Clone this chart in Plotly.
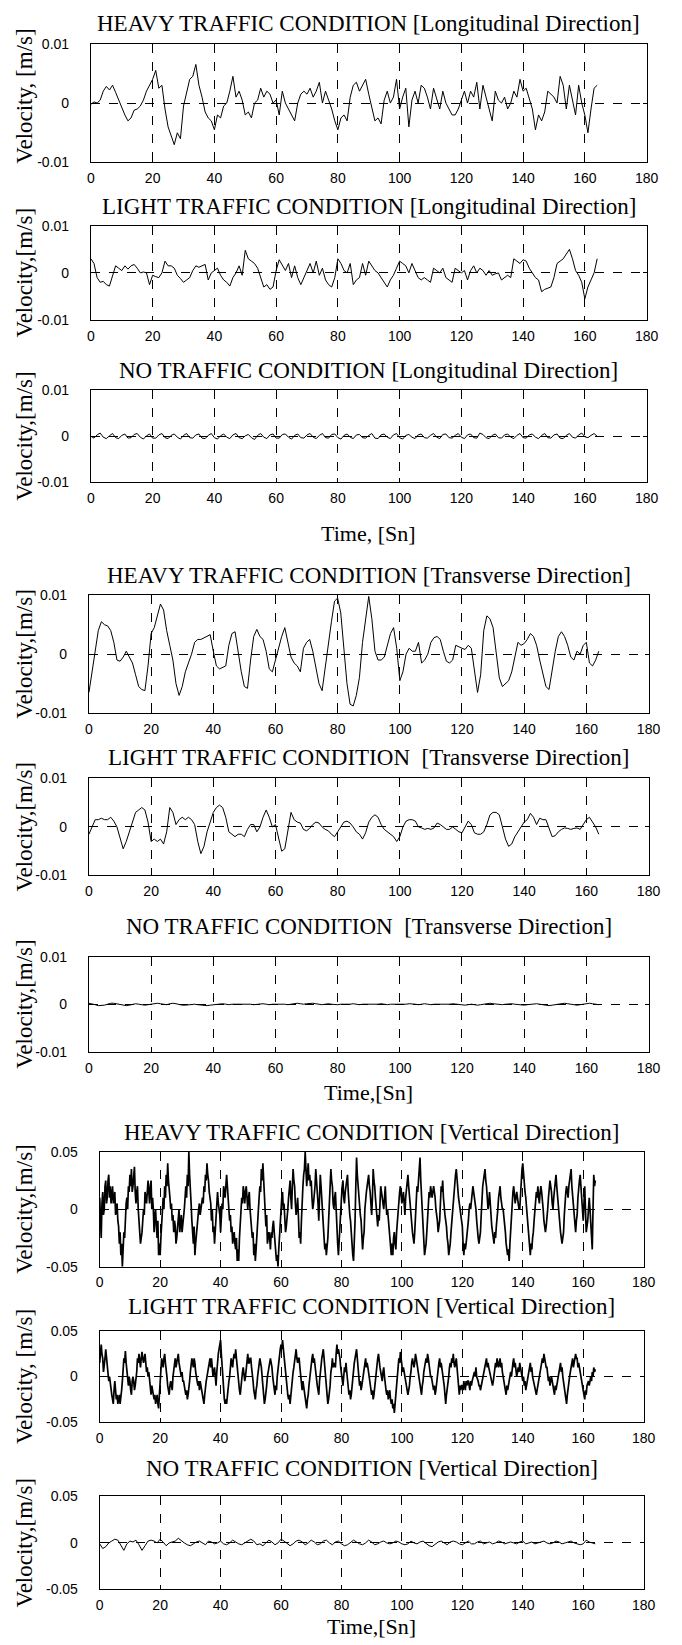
import plotly.graph_objects as go

# ---------------- data ----------------
# Longitudinal / transverse series: units of 1e-4 m/s, sampled every 1 s
HEAVY_LONG = [-2,2,0,5,20,28,22,30,18,5, -10,-20,-30,-25,-12,-10,-5,5,20,30, 40,55,25,30,-10,-40,-55,-70,-50,-60,
              -5,20,40,45,65,30,10,-15,-25,-30, -45,-20,-25,-5,0,20,45,10,20,5, -20,-15,-25,0,5,25,10,20,15,0,
              5,-20,20,0,-10,-20,-30,0,15,20, 15,25,10,20,35,0,20,5,-10,-30, -45,-25,-20,-30,10,30,35,20,30,40,
              15,-10,-30,-25,-35,5,20,0,10,40, -10,10,25,-40,5,20,0,30,25,10, -10,25,5,-10,20,0,-10,-20,-20,-10,
              5,20,0,20,10,35,-10,30,10,-10, -30,20,5,0,10,-10,0,20,10,40, 20,25,5,-10,-45,-20,-30,-15,20,15,
              10,0,45,30,-10,30,5,-20,30,0, -20,-50,-10,25,30]
LIGHT_LONG = [30,20,-10,-20,-18,-25,-28,-5,15,10, 5,15,8,15,18,10,0,2,0,-25, -5,-8,-10,0,25,15,15,10,-5,-12,
              -20,-15,-10,5,15,12,15,18,-15,0, 5,10,-5,-15,-20,-28,-10,0,15,-5, 48,30,25,20,10,-10,-30,-25,-35,-30,
              5,28,15,5,20,-10,15,-10,-25,-10, 5,20,0,25,-5,10,-15,-25,-30,-10, 30,20,5,0,20,-25,-15,-10,20,-5,
              25,15,5,0,-10,-20,-30,-15,-5,10, 25,20,15,0,20,5,-10,-15,-10,-15, -20,10,5,0,10,-10,-15,-20,10,5,
              0,5,-15,5,15,0,10,5,-5,5, -5,-2,0,-15,-10,-5,-10,30,25,20, 28,25,10,0,-10,-15,-40,-35,-32,-30,
              -10,20,25,30,40,50,30,5,-5,-20, -55,-30,-15,0,30]
NO_LONG = [0,-4,3,7,-2,-5,1,6,-3,-5, 2,5,-4,-3,4,6,-2,-6,1,5, -4,-4,3,6,-3,-5,2,5,-2,-6,
           2,6,-3,-4,3,5,-4,-5,2,6, -3,-6,1,5,-2,-5,3,6,-3,-5, 1,4,-3,-7,2,6,-2,-5,3,5,
           -4,-4,4,5,-2,-6,2,5,-3,-4, 3,6,-2,-5,2,6,-3,-4,4,5, -3,-6,2,5,-2,-5,3,4,-3,-4,
           2,6,-4,-5,3,5,-2,-5,3,6, -3,-6,2,4,-2,-5,3,5,-3,-4, 2,6,-2,-5,4,5,-3,-4,2,6,
           -2,-5,3,5,-3,-4,7,4,-3,-5, 2,5,-3,-4,3,5,-2,-5,2,6, -3,-4,3,5,-2,-5,2,6,-3,-4,
           3,5,-4,-5,2,6,-2,-4,3,7, -1,-3,2,6,0]
HEAVY_TRANS = [-65,-30,10,40,55,50,48,40,20,-10, -12,-5,5,-5,-15,-35,-55,-60,-62,-20, 35,45,65,85,75,40,15,-10,-50,-70,
               -55,-30,-15,0,20,25,25,28,30,33, 5,-20,-25,-22,-20,15,35,38,0,-30, -55,-58,-10,30,42,30,25,5,-25,-30,
               -10,10,30,45,20,-5,-15,-20,-30,10, 20,25,5,-25,-50,-62,-20,20,55,90, 95,70,10,-50,-85,-88,-70,-40,20,60,
               98,60,5,-10,-10,-5,15,35,45,10, -45,-30,0,10,5,5,20,-15,-10,0, 20,28,30,25,5,-12,-15,-10,15,12,
               10,8,15,10,-25,-65,-35,40,65,60, 45,5,-40,-55,-50,-45,-30,-5,20,15, 18,25,35,30,15,-10,-30,-55,-60,-25,
               5,30,38,30,15,-5,-10,5,0,15, 20,-15,-20,-10,5]
LIGHT_TRANS = [-15,0,15,15,18,15,15,20,12,0, -20,-45,-30,-10,15,30,35,40,35,10, -30,-25,-30,-25,-35,-10,40,30,5,15,
               20,15,20,15,5,-30,-55,-40,-10,10, 30,40,45,40,20,-10,-15,-20,-15,-15, -20,-5,5,5,-10,0,20,35,20,0,
               5,-20,-50,-45,-10,30,15,10,8,-5, -8,-3,5,10,8,0,-5,-8,-15,-20, -10,0,10,12,8,0,-10,-15,-25,-12,
               10,20,25,20,5,-5,-10,-15,-20,-30, -20,0,12,15,15,12,0,-2,-5,-3, -5,-2,8,5,0,-5,-5,0,-5,-10,
               -12,0,12,5,-12,-15,-15,-10,5,25, 30,30,25,0,-25,-40,-35,-20,-10,0, 10,15,28,20,5,18,15,15,-5,-20,
               -18,-10,-5,-2,-3,-5,-3,-2,-5,5, 15,20,10,0,-15]
NO_TRANS = [2,1,-1,-3,-3,-2,0,2,2,1, -1,-2,-3,-2,0,1,0,-1,-2,-1, 0,1,2,1,0,-1,1,2,1,-1,
            -2,-2,-1,0,0,-1,-2,-3,-3,-2, -1,0,0,1,0,-1,0,0,1,0, 0,1,0,-1,0,0,1,0,-1,0,
            0,1,1,0,-1,0,1,2,1,0, 1,2,2,1,0,-1,0,1,0,-1, -1,0,0,-1,0,1,0,-1,0,0,
            0,-1,0,0,1,0,-1,0,0,0, -1,-1,0,1,1,0,-1,0,1,0, -1,0,0,0,-1,-1,0,1,0,-1,
            -2,-2,-1,0,-1,-2,-1,0,1,2, 1,0,-1,-1,0,1,1,0,-1,-2, -2,-1,0,1,1,0,-1,-2,-3,-2,
            -1,0,1,2,1,0,-1,-2,-1,0, 1,2,1,0,-1]
# Vertical series: units of 1e-3 m/s; heavy/light sampled every 0.25 s, no-traffic every 1 s
HEAVY_VERT = [
    10,-5,-25,5,15,-5,0,20, 25,5,10,25,30,10,20,5, 15,20,5,10,15,-5,0,5, -10,-15,-30,-20,-40,-30,-50,-35,
    -20,-25,-5,5,10,0,20,15, 30,20,35,15,20,30,37,15, 5,15,20,0,-10,-20,-30,-25, -20,-10,0,-5,15,10,5,15,
    25,15,5,20,25,0,10,0, -20,-5,0,-15,-25,-10,-40,-30, -40,-25,-10,5,10,0,20,10, 30,20,40,25,20,10,0,5,
    -10,-5,-20,-10,-15,-30,-25,-15, -10,0,-20,-15,-5,-20,-15,-5, 0,10,20,10,30,20,50,30, 20,5,-10,-20,-30,-15,-40,-30,
    -20,-15,-10,0,5,-5,0,5, 10,5,20,15,30,25,40,30, 25,15,10,5,-10,0,-20,-15, -30,-20,-10,5,15,5,0,-5,
    -20,-10,5,0,20,15,10,20, 30,20,10,0,-10,-5,-20,-15, -30,-25,-20,-30,-35,-25,-45,-35, -45,-25,-10,0,10,5,20,15,
    5,15,20,10,0,10,15,0, -10,-15,-25,-20,-40,-30,-45,-35, -20,-10,0,10,20,15,35,25, 40,25,10,0,-15,-5,-30,-25,
    -20,-25,-35,-20,-25,-15,-10,-20, -30,-35,-45,-40,-50,-35,-20,-10, 0,10,15,0,5,-5,-20,-15, -10,0,10,20,25,10,0,20,
    35,25,20,5,-5,0,10,-5, -25,-20,-30,-10,10,20,30,35, 50,35,20,30,40,25,30,20, 25,10,0,5,10,20,35,25,
    20,5,-10,10,30,20,5,-5, -20,-25,-35,-30,-40,-35,-25,-10, 10,20,35,25,20,5,0,10, 15,0,-25,-30,-40,-25,-10,0,
    10,20,25,10,5,15,20,25, 30,15,0,-5,-10,-20,-35,-40, -45,-30,-10,20,45,30,20,5, 0,-5,-10,-20,-35,-25,-20,0,
    10,15,20,25,30,20,15,5, -5,10,35,25,20,10,0,-10, -15,-5,-10,5,20,15,10,5, 0,10,20,5,-5,0,-10,-20,
    -30,-35,-40,-30,-40,-25,-20,-30, -35,-20,-10,0,10,15,20,10, 5,10,15,5,-5,10,20,25, 30,20,10,0,-10,-15,-20,-25,
    -30,-20,-10,5,20,15,25,35, 45,25,10,-5,-20,-30,-40,-35, -30,-20,-10,5,15,10,20,15, 10,15,20,15,10,0,-5,-10,
    -20,-15,-10,5,20,15,25,10, 0,-5,-10,-15,-25,-30,-40,-35, -30,-20,-10,0,10,20,25,30, 35,25,20,10,5,0,-5,-10,
    -15,-30,-40,-30,-35,-30,-25,-15, -10,0,5,0,10,15,20,15, 10,5,0,-10,-20,-25,-30,-25, -20,-5,10,20,25,30,35,25,
    20,10,0,5,15,5,-10,-15, -20,-25,-30,-20,-25,-15,-10,0, 10,15,20,10,5,0,0,-5, -10,-20,-30,-35,-40,-35,-45,-30,
    -20,-5,10,15,20,10,5,10, 15,10,5,0,0,15,30,35, 40,30,20,15,10,0,-10,-20, -25,-30,-40,-30,-35,-25,-20,-10,
    0,5,15,10,20,10,5,15, 20,15,10,0,-10,-15,-20,-15, -10,0,10,20,25,20,15,5, 0,10,20,25,30,20,10,0,
    -10,-15,-20,-25,-30,-25,-20,-5, 10,15,20,15,10,20,25,30, 35,20,10,0,-10,-15,-20,-10, -5,10,20,25,30,20,10,0,
    -10,5,20,0,-20,-15,-10,0, 10,0,-15,-25,-35,0,30,20, 25]
LIGHT_VERT = [
    15,25,35,25,20,5,10,20, 30,20,15,5,-5,0,-10,-15, -20,-25,-30,-15,-5,-15,-25,-20, -30,-25,-20,-30,-25,-15,-5,5,
    20,15,28,15,5,0,-10,0, -5,-15,-20,-5,0,-5,-15,-10, -5,5,20,15,25,15,10,20, 27,20,15,20,25,15,5,10,
    0,5,-5,-10,-20,-10,-15,-20, -25,-20,-30,-25,-20,-30,-35,-20, -5,5,20,15,10,20,25,15, 10,0,-10,-15,-20,-10,-5,-10,
    -15,0,10,15,20,10,15,20, 25,15,10,5,0,5,-5,-5, -10,-15,-20,-15,-25,-20,-15,-5, 5,10,20,15,10,20,15,5,
    0,-5,-10,-5,-15,-5,-10,-15, -20,-25,-30,-20,-10,-5,0,5, 10,15,20,10,20,10,0,5, 10,0,-10,5,20,25,30,35,
    40,25,10,-5,-20,-25,-30,-25, -30,-20,-10,-5,0,10,20,15, 10,20,25,20,30,20,10,0, -10,-15,-20,-10,0,5,10,0,
    -5,0,10,20,25,15,15,20, 20,10,5,-5,-15,-20,-25,-15, -10,0,10,15,20,15,10,0, -15,-20,-30,-25,-20,-10,0,5,
    10,15,20,15,10,0,-10,-15, -20,-10,-15,0,10,15,20,30, 35,30,40,30,25,15,10,0, -10,-20,-25,-20,-30,-20,-10,0,
    5,10,20,25,30,20,15,20, 20,10,0,-5,-15,-5,-10,-15, -20,-25,-35,-25,-20,-10,0,5, 10,20,25,15,20,10,5,0,
    -10,-15,-20,-5,5,15,20,25, 30,20,10,0,-15,-20,-30,-25, -20,-10,5,10,20,10,15,10, 10,25,35,25,30,25,20,10,
    0,-5,-10,0,10,5,15,5, -5,-10,-20,-15,-25,-20,-10,0, 10,15,20,25,30,20,10,0, -10,-5,-15,-10,-5,0,10,15,
    20,10,15,10,5,-5,-10,-15, -20,-15,-25,-20,-10,0,10,15, 20,25,15,10,5,0,-5,5, 10,0,-10,-15,-20,-15,-25,-20,
    -15,-25,-30,-25,-35,-30,-40,-30, -20,-5,5,15,20,15,27,20, 15,5,10,5,0,-5,-10,-15, -20,-15,-10,0,5,15,20,15,
    10,15,25,20,15,5,0,-5, -10,-15,-20,-10,-5,5,10,15, 20,15,25,20,15,5,0,0, -5,-10,-15,-10,-20,-15,-5,5,
    10,15,20,10,15,10,5,0, -10,-20,-30,-20,-15,-5,0,10, 15,10,20,15,25,15,10,15, 20,10,0,-10,-20,-10,-15,-10,
    -10,-15,-5,-10,-15,-5,-10,-5, -5,-10,-15,-5,-10,-5,0,0, 5,0,10,0,-5,-5,-10,-10, -15,-10,-5,0,5,5,10,15,
    20,10,15,10,5,0,-5,-5, -10,-5,0,10,15,10,20,15, 10,15,20,10,15,5,0,-5, -10,-15,-20,-10,-15,-10,-5,0,
    5,0,10,15,20,10,15,5, 0,5,10,5,15,10,5,0, -5,0,-10,-5,-15,-10,-5,0, 5,10,15,5,10,0,-5,-5,
    -10,-15,-20,-15,-10,-5,0,5, 10,15,20,15,25,20,15,10, 10,0,-5,0,-10,-5,0,-5, -10,-15,-20,-10,-15,-10,-5,0,
    5,10,15,5,10,0,-5,-10, -15,-20,-30,-20,-10,-5,0,5, 10,15,20,10,15,20,25,20, 20,10,15,10,5,0,-5,-10,
    -15,-20,-25,-15,-20,-10,-5,-5, -10,-5,0,-5,5,0,10,5, 8]
NO_VERT = [-1,-6,-4,0,2,4,3,-3,-8,-1, 2,1,3,-2,-8,-3,2,3,2,0, 4,1,-3,0,1,2,5,2,0,-2,
           -3,-1,1,2,0,-2,2,1,-1,0, 2,-1,-2,0,3,1,-1,-2,0,2, 4,2,-2,-1,-3,0,3,1,-2,0,
           4,2,-1,-3,-1,2,3,1,-2,0, 3,1,-2,-1,2,3,0,-2,1,2, -1,-3,-2,1,3,1,-1,-2,0,3,
           1,-2,-1,1,2,0,-1,0,2,1, -1,-2,-1,2,0,-1,1,2,-1,-3, -4,-1,1,2,0,-2,1,2,1,-1,
           -2,0,2,-1,-1,1,2,-1,0,1, -1,0,2,1,-1,0,1,0,-1,1, 2,-1,0,1,-1,0,1,2,0,-1,
           0,2,1,-1,0,1,2,0,-1,-2, -1,3,1,0,-1]

TITLES = ["HEAVY TRAFFIC CONDITION [Longitudinal Direction]",
          "LIGHT TRAFFIC CONDITION [Longitudinal Direction]",
          "NO TRAFFIC CONDITION [Longitudinal Direction]",
          "HEAVY TRAFFIC CONDITION [Transverse Direction]",
          "LIGHT TRAFFIC CONDITION  [Transverse Direction]",
          "NO TRAFFIC CONDITION  [Transverse Direction]",
          "HEAVY TRAFFIC CONDITION [Vertical Direction]",
          "LIGHT TRAFFIC CONDITION [Vertical Direction]",
          "NO TRAFFIC CONDITION [Vertical Direction]"]
YLABELS = ["Velocity, [m/s]", "Velocity,[m/s]", "Velocity,[m/s]",
           "Velocity,[m/s]", "Velocity,[m/s]", "Velocity,[m/s]",
           "Velocity,[m/s]", "Velocity, [m/s]", "Velocity,[m/s]"]
XLABELS = {2: "Time, [Sn]", 5: "Time,[Sn]", 8: "Time,[Sn]"}
X_TICKS = [0, 20, 40, 60, 80, 100, 120, 140, 160, 180]
Y_TICKS_SMALL = [-0.01, 0, 0.01]
Y_TICKTEXT_SMALL = ["-0.01", "0", "0.01"]
Y_TICKS_LARGE = [-0.05, 0, 0.05]
Y_TICKTEXT_LARGE = ["-0.05", "0", "0.05"]

series = [(HEAVY_LONG, 1e-4, 1.0), (LIGHT_LONG, 1e-4, 1.0), (NO_LONG, 1e-4, 1.0),
          (HEAVY_TRANS, 1e-4, 1.0), (LIGHT_TRANS, 1e-4, 1.0), (NO_TRANS, 1e-4, 1.0),
          (HEAVY_VERT, 1e-3, 0.25), (LIGHT_VERT, 1e-3, 0.25), (NO_VERT, 1e-3, 1.0)]

# ---------------- layout geometry (pixels) ----------------
W, H = 682, 1645
boxes = [  # (left, right, top, bottom)
    (89, 658, 36, 156), (89, 658, 220, 315), (89, 658, 386, 479),
    (87, 660, 593, 712), (87, 660, 778, 876), (87, 660, 958, 1054),
    (98, 655, 1155, 1271), (98, 655, 1336, 1428), (98, 655, 1503, 1597)]
title_y = [16, 200, 366, 573, 757, 928, 1136, 1311, 1475]
ylabel_shift = [-7, 0, 0, 0, 0, 0, 0, 0, 0]
xlabel_y = {2: 531, 5: 1095, 8: 1634}

serif = "Liberation Serif, Times New Roman, serif"
sans = "Liberation Sans, Arial, Helvetica, sans-serif"

fig = go.Figure()
layout = dict(width=W, height=H, margin=dict(l=0, r=0, t=0, b=0),
              paper_bgcolor="white", plot_bgcolor="white", showlegend=False)
annotations = []

for i, ((vals, unit, dt), (l, r, t, b)) in enumerate(zip(series, boxes)):
    n = i + 1
    xs = [k * dt for k in range(len(vals))]
    ys = [v * unit for v in vals]
    sfx = "" if n == 1 else str(n)
    fig.add_trace(go.Scatter(x=xs, y=ys, mode="lines",
                             line=dict(color="black", width=1.7 if n in (7, 8) else 1),
                             xaxis="x" + sfx, yaxis="y" + sfx, hoverinfo="skip"))
    common = dict(showline=True, linecolor="black", linewidth=1, mirror="ticks",
                  ticks="inside", ticklen=4, tickcolor="black",
                  showgrid=True, gridcolor="black", gridwidth=0.8, griddash="dash",
                  zeroline=False, tickfont=dict(family=sans, size=14, color="black"))
    layout["xaxis" + sfx] = dict(domain=[l / W, r / W], anchor="y" + sfx, range=[0, 180],
                                 tickmode="array", tickvals=X_TICKS, ticklabelstandoff=3, **common)
    big = n >= 7
    layout["yaxis" + sfx] = dict(domain=[1 - b / H, 1 - t / H], anchor="x" + sfx,
                                 range=[-0.05, 0.05] if big else [-0.01, 0.01],
                                 tickmode="array",
                                 tickvals=Y_TICKS_LARGE if big else Y_TICKS_SMALL,
                                 ticktext=Y_TICKTEXT_LARGE if big else Y_TICKTEXT_SMALL,
                                 ticklabelstandoff=18, **common)
    cx = (l + r) / 2 / W
    annotations.append(dict(text=TITLES[i], xref="paper", yref="paper", x=cx, y=1 - title_y[i] / H,
                            xanchor="center", yanchor="middle", showarrow=False,
                            font=dict(family=serif, size=23, color="black")))
    annotations.append(dict(text=YLABELS[i], xref="paper", yref="paper", x=21 / W,
                            y=1 - ((t + b) / 2 + ylabel_shift[i]) / H, xanchor="center", yanchor="middle",
                            textangle=-90, showarrow=False,
                            font=dict(family=serif, size=23, color="black")))
    if i in XLABELS:
        annotations.append(dict(text=XLABELS[i], xref="paper", yref="paper", x=cx,
                                y=1 - xlabel_y[i] / H, xanchor="center", yanchor="middle",
                                showarrow=False, font=dict(family=serif, size=22, color="black")))

layout["annotations"] = annotations
fig.update_layout(**layout)
fig.write_html("out.html")
